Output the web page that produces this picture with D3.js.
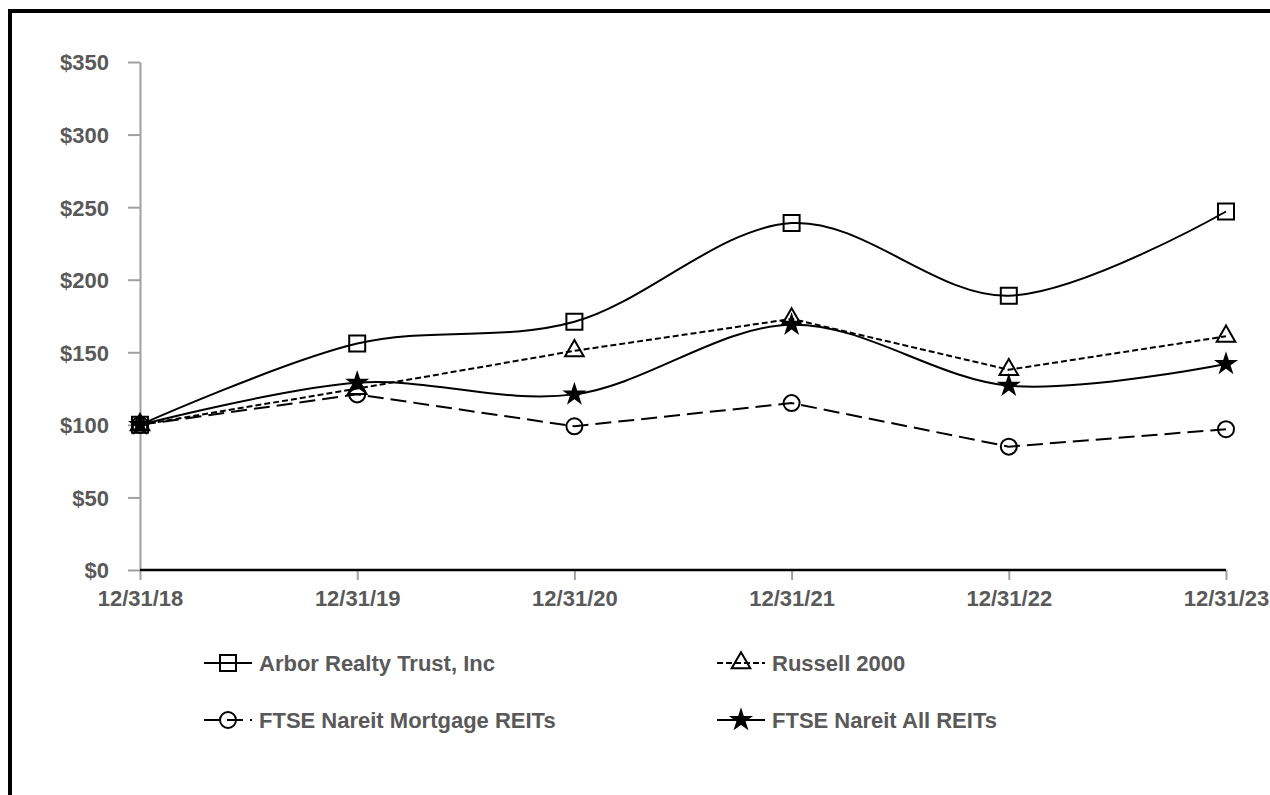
<!DOCTYPE html>
<html>
<head>
<meta charset="utf-8">
<script src="https://cdn.jsdelivr.net/npm/d3@7"></script>
<style>
  body { margin: 0; background: #fff; }
  svg { display: block; font-family: "Liberation Sans", Arial, sans-serif; }
  .lbl { font-weight: bold; font-size: 22px; fill: #595959; }
</style>
</head>
<body>
<svg width="1270" height="795"></svg>
<script>
// chart values
var dates = ["12/31/18", "12/31/19", "12/31/20", "12/31/21", "12/31/22", "12/31/23"];
var arbor = [100, 156, 171, 239, 189, 247];
var russell = [100, 125, 151, 173, 138, 161];
var mortgage = [100, 121, 99, 115, 85, 97];
var allReits = [100, 129, 121, 169, 127, 142];
var yTicks = [0, 50, 100, 150, 200, 250, 300, 350];

var svg = d3.select("svg");

// outer frame (runs off the right and bottom edge)
svg.append("rect")
  .attr("x", 10).attr("y", 11)
  .attr("width", 1300).attr("height", 900)
  .attr("fill", "none").attr("stroke", "#000").attr("stroke-width", 4);

var x = d3.scalePoint().domain(dates).range([140, 1226]);
var y = d3.scaleLinear().domain([0, 350]).range([570, 62]);

// y axis - grey line with ticks to the left
var yAxis = svg.append("g").attr("transform", "translate(140,0)")
  .call(d3.axisLeft(y).tickValues(yTicks).tickSize(12).tickSizeOuter(0).tickFormat(function (d) { return "$" + d; }));
yAxis.select(".domain").attr("stroke", "#a0a0a0").attr("stroke-width", 2);
yAxis.selectAll(".tick line").attr("stroke", "#a0a0a0").attr("stroke-width", 2);
yAxis.selectAll(".tick text").attr("class", "lbl").attr("x", -31).attr("dy", "0.36em");

// x axis - black base line, grey ticks pointing down
var xAxis = svg.append("g").attr("transform", "translate(0,570)")
  .call(d3.axisBottom(x).tickSize(10).tickSizeOuter(0));
xAxis.select(".domain").remove();
xAxis.selectAll(".tick line").attr("stroke", "#a0a0a0").attr("stroke-width", 2);
xAxis.selectAll(".tick text").attr("class", "lbl").attr("y", 36).attr("dy", 0);
svg.append("line")
  .attr("x1", 140).attr("x2", 1226).attr("y1", 570).attr("y2", 570)
  .attr("stroke", "#000").attr("stroke-width", 2.5);

var smooth = d3.line().x(function (d, i) { return x(dates[i]); }).y(function (d) { return y(d); })
  .curve(d3.curveCardinal.tension(0));
var straight = d3.line().x(function (d, i) { return x(dates[i]); }).y(function (d) { return y(d); });

var series = [
  { name: "Arbor Realty Trust, Inc", values: arbor, line: smooth, dash: null, sym: d3.symbolSquare, size: 256, fill: "none" },
  { name: "Russell 2000", values: russell, line: straight, dash: "6,3", sym: d3.symbolTriangle, size: 150, fill: "none" },
  { name: "FTSE Nareit Mortgage REITs", values: mortgage, line: straight, dash: "16,7", sym: d3.symbolCircle, size: 201, fill: "none" },
  { name: "FTSE Nareit All REITs", values: allReits, line: smooth, dash: null, sym: d3.symbolStar, size: 100, fill: "#000" }
];

series.forEach(function (s) {
  svg.append("path")
    .attr("d", s.line(s.values))
    .attr("fill", "none").attr("stroke", "#000").attr("stroke-width", 2)
    .attr("stroke-dasharray", s.dash);
  svg.selectAll(null)
    .data(s.values)
    .enter()
    .append("path")
    .attr("d", d3.symbol().type(s.sym).size(s.size))
    .attr("transform", function (d, i) { return "translate(" + x(dates[i]) + "," + y(d) + ")"; })
    .attr("fill", s.fill).attr("stroke", "#000").attr("stroke-width", 2);
});

// legend, two columns
var legendPos = [[204, 663], [717, 663], [204, 720], [717, 720]];
series.forEach(function (s, i) {
  var p = legendPos[i];
  var g = svg.append("g").attr("transform", "translate(" + p[0] + "," + p[1] + ")");
  g.append("line")
    .attr("x1", 0).attr("x2", 48).attr("y1", 0).attr("y2", 0)
    .attr("stroke", "#000").attr("stroke-width", 2)
    .attr("stroke-dasharray", s.dash);
  g.append("path")
    .attr("d", d3.symbol().type(s.sym).size(s.size))
    .attr("transform", "translate(24,0)")
    .attr("fill", s.fill).attr("stroke", "#000").attr("stroke-width", 2);
  g.append("text")
    .attr("class", "lbl")
    .attr("x", 55).attr("dy", "0.36em")
    .text(s.name);
});
</script>
</body>
</html>
